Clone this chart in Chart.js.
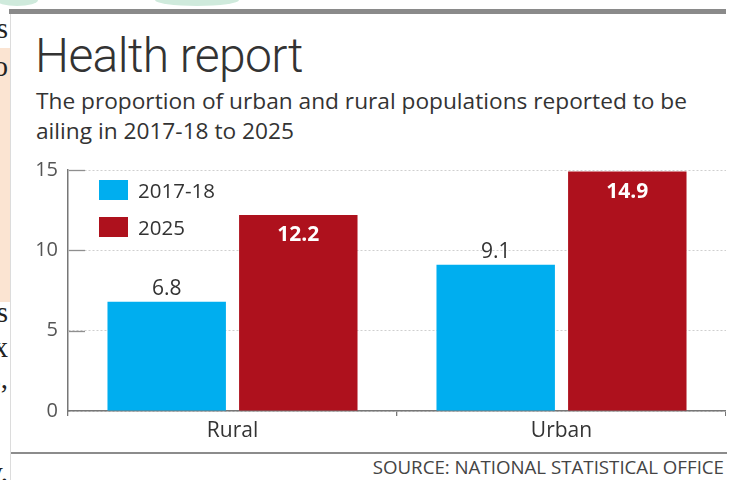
<!DOCTYPE html>
<html>
<head>
<meta charset="utf-8">
<script src="https://cdn.jsdelivr.net/npm/chart.js@4.4.1/dist/chart.umd.min.js"></script>
<style>
  html, body { margin:0; padding:0; }
  body { width:737px; height:480px; position:relative; overflow:hidden; background:#fff; font-family:"Open Sans", sans-serif; }
  .abs { position:absolute; }
  #peach { left:0; top:48px; width:10px; height:254px; background:#fbe4d2; }
  #card { left:10px; top:14px; width:716px; height:470px; background:#fff; border-left:1px solid #dcdcdc; }
  #topbar { left:9px; top:9px; width:717px; height:5px; background:#8a8a8a; }
  .green { background:#cfeadc; border-radius:0 0 50% 50%; top:-6px; height:12px; }
  .frag { left:-40px; width:48px; text-align:right; font-family:"Liberation Serif", serif; font-size:29px; color:#222; line-height:1; }
  #title { left:35px; top:32px; font-family:Roboto, sans-serif; font-size:48px; font-weight:300; letter-spacing:-0.6px; color:#333; line-height:48px; white-space:nowrap; }
  #sub { left:36px; top:86px; font-size:22.7px; color:#333; line-height:29.5px; white-space:nowrap; }
  #chartbox { left:10px; top:148px; width:716px; height:298px; }
  #rule { left:11px; top:452px; width:716px; height:2px; background:#8c8c8c; }
  #source { right:13px; top:456px; font-size:18.7px; color:#444; white-space:nowrap; line-height:22px; }
</style>
</head>
<body>
<div class="abs" id="peach"></div>
<div class="abs frag" style="top:14px">s</div>
<div class="abs frag" style="top:52px">o</div>
<div class="abs frag" style="top:298px">s</div>
<div class="abs frag" style="top:333px">x</div>
<div class="abs frag" style="top:364px">s,</div>
<div class="abs frag" style="top:458px">y.</div>
<div class="abs" id="card"></div>
<div class="abs green" style="left:-4px;width:42px"></div>
<div class="abs green" style="left:155px;width:84px"></div>
<div class="abs" id="topbar"></div>
<div class="abs" id="title">Health report</div>
<div class="abs" id="sub">The proportion of urban and rural populations reported to be<br>ailing in 2017-18 to 2025</div>
<div class="abs" id="chartbox"><canvas id="c"></canvas></div>
<div class="abs" id="rule"></div>
<div class="abs" id="source">SOURCE: NATIONAL STATISTICAL OFFICE</div>

<script>
const categories = ["Rural", "Urban"];
const seriesNames = ["2017-18", "2025"];
const values2017 = [6.8, 9.1];
const values2025 = [12.2, 14.9];
const yTicks = [0, 5, 10, 15];

const BLUE = "#00aeef";
const RED = "#ae111d";
const FONT = "'Open Sans'";

const innerTicks = {
  id: "innerTicks",
  afterDatasetsDraw(chart) {
    const y = chart.scales.y, ctx = chart.ctx, a = chart.chartArea;
    ctx.save();
    ctx.strokeStyle = "#8f8f8f";
    ctx.lineWidth = 1.3;
    y.ticks.forEach((t, i) => {
      if (t.value === 0) return;
      const py = Math.round(y.getPixelForTick(i)) + 0.5;
      ctx.beginPath();
      ctx.moveTo(a.left + 1, py);
      ctx.lineTo(a.left + 17, py);
      ctx.stroke();
    });
    ctx.restore();
  }
};

const valueLabels = {
  id: "valueLabels",
  afterDatasetsDraw(chart) {
    const ctx = chart.ctx;
    ctx.save();
    ctx.textAlign = "center";
    ctx.textBaseline = "alphabetic";
    chart.data.datasets.forEach((ds, di) => {
      const meta = chart.getDatasetMeta(di);
      meta.data.forEach((bar, i) => {
        const v = ds.data[i];
        if (di === 0) {
          ctx.font = "400 21px " + FONT;
          ctx.fillStyle = "#333";
          ctx.fillText(v.toFixed(1), bar.x, bar.y - 7);
        } else {
          ctx.font = "700 21px " + FONT;
          ctx.fillStyle = "#fff";
          ctx.fillText(v.toFixed(1), bar.x, bar.y + 26);
        }
      });
    });
    ctx.restore();
  }
};

const innerLegend = {
  id: "innerLegend",
  afterDatasetsDraw(chart) {
    const ctx = chart.ctx, a = chart.chartArea;
    ctx.save();
    chart.data.datasets.forEach((ds, i) => {
      const x = a.left + 31, y = a.top + 10 + i * 37;
      ctx.fillStyle = ds.backgroundColor;
      ctx.fillRect(x, y, 29, 20);
      ctx.font = "400 20.5px " + FONT;
      ctx.fillStyle = "#333";
      ctx.textBaseline = "alphabetic";
      ctx.textAlign = "left";
      ctx.fillText(ds.label, x + 39, y + 18);
    });
    ctx.restore();
  }
};

new Chart(document.getElementById("c"), {
  type: "bar",
  data: {
    labels: categories,
    datasets: [
      { label: seriesNames[0], data: values2017, backgroundColor: BLUE, borderWidth: 0 },
      { label: seriesNames[1], data: values2025, backgroundColor: RED, borderWidth: 0 }
    ]
  },
  options: {
    responsive: true,
    maintainAspectRatio: false,
    animation: false,
    devicePixelRatio: 1,
    categoryPercentage: 0.80,
    barPercentage: 0.90,
    layout: { padding: { top: 4, right: 0, bottom: 0, left: 0 } },
    plugins: { legend: { display: false }, tooltip: { enabled: false } },
    scales: {
      x: {
        afterFit(s) { s.height = 35; },
        grid: { display: true, offset: true, drawOnChartArea: false, drawTicks: true, tickLength: 5, color: "#777", lineWidth: 1.3 },
        border: { display: true, color: "#777", width: 1.5 },
        ticks: { color: "#333", font: { family: "Open Sans", size: 21 }, padding: 2 }
      },
      y: {
        min: 0, max: 15,
        afterFit(s) { s.width = 58; },
        afterBuildTicks(s) { s.ticks = yTicks.map(v => ({ value: v })); },
        grid: { color: "#cfcfcf", lineWidth: 1, drawTicks: false },
        border: { display: true, color: "#777", width: 1.5, dash: [2, 2] },
        ticks: { color: "#555", font: { family: "Open Sans", size: 20 }, padding: 10 }
      }
    }
  },
  plugins: [innerTicks, valueLabels, innerLegend]
});
</script>
</body>
</html>
